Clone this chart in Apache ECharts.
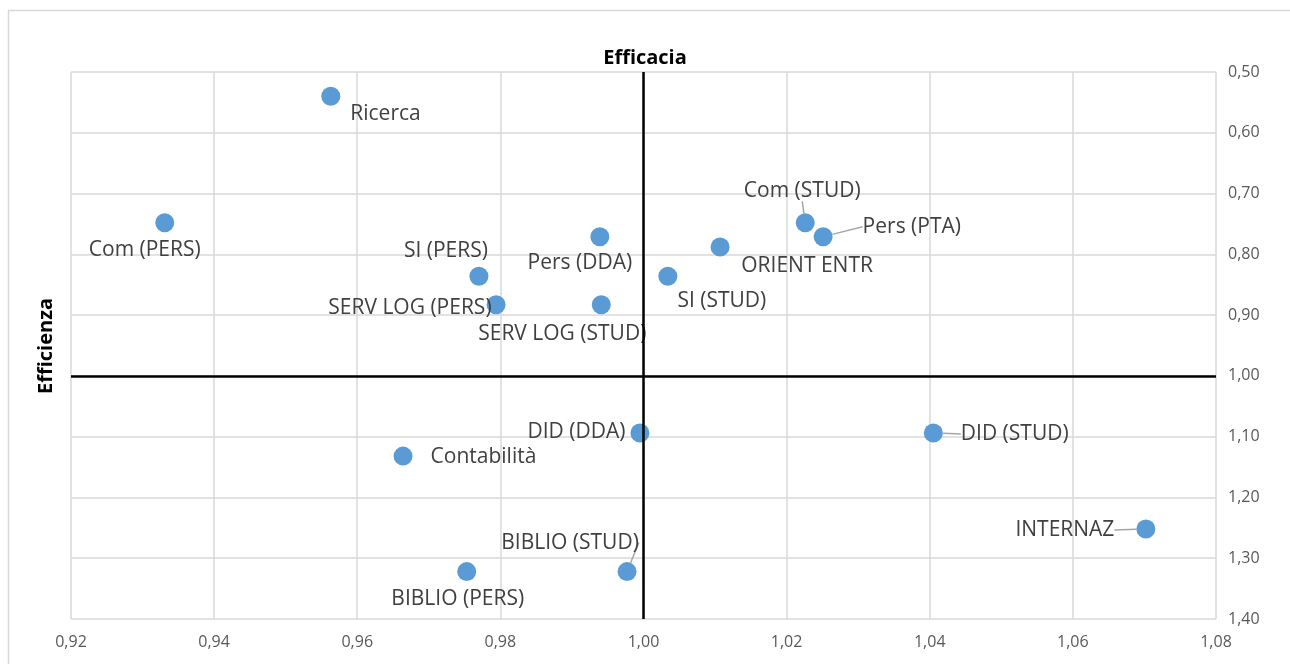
<!DOCTYPE html>
<html>
<head>
<meta charset="utf-8">
<script src="https://cdn.jsdelivr.net/npm/echarts@6/dist/echarts.min.js"></script>
<style>
  html, body { margin: 0; padding: 0; background: #fff; }
  #chart { width: 1290px; height: 664px; }
</style>
</head>
<body>
<div id="chart"></div>
<script>
// nomi dei punti
var names = [
  "Ricerca", "Com (PERS)", "SI (PERS)", "Pers (DDA)", "SERV LOG (PERS)",
  "SERV LOG (STUD)", "SI (STUD)", "ORIENT ENTR", "Com (STUD)", "Pers (PTA)",
  "DID (DDA)", "DID (STUD)", "Contabilità", "INTERNAZ", "BIBLIO (STUD)", "BIBLIO (PERS)"
];
// efficacia (asse x)
var efficacia = [
  0.9563, 0.9331, 0.9770, 0.9939, 0.9794,
  0.9941, 1.0034, 1.0107, 1.0226, 1.0251,
  0.9995, 1.0405, 0.9664, 1.0702, 0.9977, 0.9753
];
// efficienza (asse y, invertito)
var efficienza = [
  0.540, 0.748, 0.836, 0.771, 0.883,
  0.883, 0.836, 0.788, 0.748, 0.771,
  1.094, 1.094, 1.132, 1.252, 1.322, 1.322
];

// posizione etichette: [position, dx, dy, leader line]
var labelPos = [
  ["right", 5, 18, false],
  ["bottom", -20, 2, false],
  ["top", -33, 0, false],
  ["bottom", -20, 1, false],
  ["left", 10, 3, false],
  ["bottom", -39, 4, false],
  ["bottom", 54, 0, false],
  ["bottom", 87, -6, false],
  ["top", -3, -7, true],
  ["right", 25, -10, true],
  ["left", 0, -1, false],
  ["right", 13, 1, true],
  ["right", 13, 1, false],
  ["left", -17, 1, true],
  ["top", -57, -4, true],
  ["bottom", -9, 2, false]
];

var pts = [];
for (let i = 0; i < names.length; i++) {
  pts.push({
    name: names[i],
    value: [efficacia[i], efficienza[i]],
    label: { position: labelPos[i][0] },
    labelLine: { show: labelPos[i][3] }
  });
}

function fmt(v) {
  return v.toFixed(2).replace(".", ",");
}

var chart = echarts.init(document.getElementById("chart"));
chart.setOption({
  backgroundColor: "#fff",
  animation: false,
  textStyle: { fontFamily: "Open Sans" },
  title: {
    text: "Efficacia",
    left: "center",
    top: 43,
    textStyle: { fontSize: 20, fontWeight: "bold", color: "#000", fontFamily: "Open Sans" }
  },
  graphic: [
    {
      type: "rect",
      shape: { x: 8.5, y: 10.5, width: 1300, height: 700 },
      style: { fill: null, stroke: "#d9d9d9", lineWidth: 1.5 },
      silent: true
    },
    {
      type: "text",
      x: 46,
      y: 346,
      rotation: Math.PI / 2,
      style: {
        text: "Efficienza",
        fontSize: 20,
        fontWeight: "bold",
        fill: "#000",
        fontFamily: "Open Sans",
        align: "center",
        verticalAlign: "middle"
      }
    }
  ],
  grid: { left: 71, right: 74, top: 72, bottom: 45 },
  xAxis: {
    type: "value",
    min: 0.92,
    max: 1.08,
    interval: 0.02,
    axisLine: { show: false },
    axisTick: { show: false },
    splitLine: { lineStyle: { color: "#d9d9d9", width: 1.5 } },
    axisLabel: {
      color: "#595959",
      fontSize: 16,
      margin: 15,
      formatter: fmt
    }
  },
  yAxis: {
    type: "value",
    position: "right",
    inverse: true,
    min: 0.5,
    max: 1.4,
    interval: 0.1,
    axisLine: { show: false },
    axisTick: { show: false },
    splitLine: { lineStyle: { color: "#d9d9d9", width: 1.5 } },
    axisLabel: {
      color: "#595959",
      fontSize: 16,
      margin: 12,
      formatter: fmt
    }
  },
  series: [
    {
      type: "scatter",
      symbolSize: 19,
      itemStyle: { color: "#5b9bd5", opacity: 1 },
      data: pts,
      label: {
        show: true,
        formatter: "{b}",
        color: "#404040",
        fontSize: 21,
        distance: 5
      },
      labelLine: {
        lineStyle: { color: "#a6a6a6", width: 1.5 }
      },
      labelLayout: function (params) {
        var p = labelPos[params.dataIndex];
        return { dx: p[1], dy: p[2] };
      },
      markLine: {
        silent: true,
        symbol: "none",
        label: { show: false },
        lineStyle: { color: "#000", width: 2.5, type: "solid" },
        data: [{ xAxis: 1.0 }, { yAxis: 1.0 }]
      },
      z: 3
    }
  ]
});
</script>
</body>
</html>
